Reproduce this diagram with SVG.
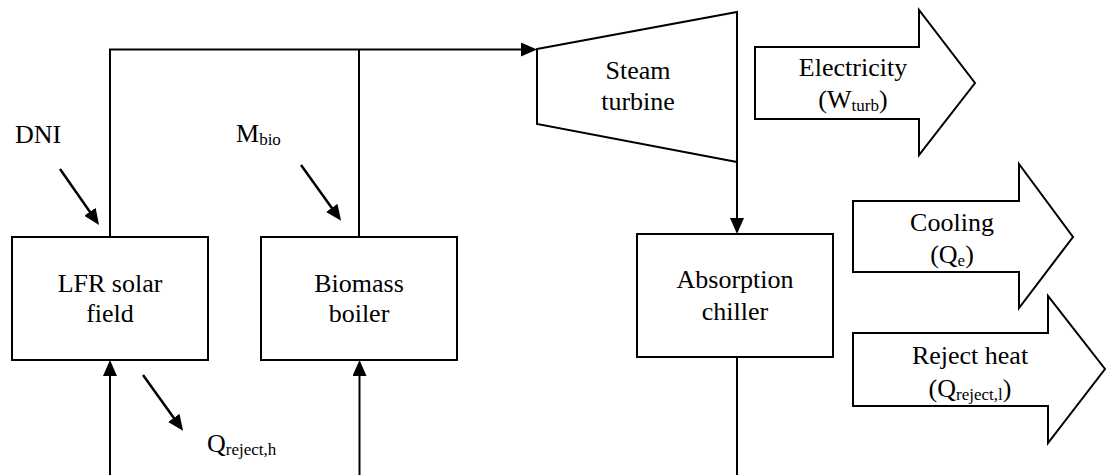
<svg xmlns="http://www.w3.org/2000/svg" width="1108" height="475" viewBox="0 0 1108 475" font-family="Liberation Serif" style="font-family:'Liberation Serif',serif">
<defs>
<marker id="ah" viewBox="0 0 16 14" refX="10" refY="7" markerWidth="16" markerHeight="14" markerUnits="userSpaceOnUse" orient="auto">
<path d="M0,0 L16,7 L0,14 z" fill="#000"/>
</marker>
</defs>
<rect width="1108" height="475" fill="#fff"/>
<g id="connectors" fill="none" stroke="#000" stroke-width="2">
<path d="M110,237 V49.5 H531" marker-end="url(#ah)"/>
<path d="M359,237 V49.5"/>
<path d="M737,162 V228" marker-end="url(#ah)"/>
<path d="M737,357 V475"/>
<path d="M110,475 V366" marker-end="url(#ah)"/>
<path d="M359.5,475 V366" marker-end="url(#ah)"/>
<line stroke-width="2.5" x1="60" y1="169" x2="95.6" y2="220" marker-end="url(#ah)"/>
<line stroke-width="2.5" x1="301" y1="165" x2="337.6" y2="216" marker-end="url(#ah)"/>
<line stroke-width="2.5" x1="143" y1="375" x2="179.6" y2="426" marker-end="url(#ah)"/>
</g>
<g id="lfr">
<rect fill="#fff" stroke="#000" stroke-width="2" x="12" y="237" width="196" height="123"/>
<text x="110" y="292" text-anchor="middle" style="font-family:'Liberation Serif',serif;font-size:26px">LFR solar</text>
<text x="110" y="322" text-anchor="middle" style="font-family:'Liberation Serif',serif;font-size:26px">field</text>
</g>
<g id="biomass">
<rect fill="#fff" stroke="#000" stroke-width="2" x="261" y="237" width="196" height="123"/>
<text x="359" y="292" text-anchor="middle" style="font-family:'Liberation Serif',serif;font-size:26px">Biomass</text>
<text x="359" y="322" text-anchor="middle" style="font-family:'Liberation Serif',serif;font-size:26px">boiler</text>
</g>
<g id="turbine">
<polygon fill="#fff" stroke="#000" stroke-width="2" points="537,49 737,12 737,162 537,124"/>
<text x="638" y="79" text-anchor="middle" style="font-family:'Liberation Serif',serif;font-size:26px">Steam</text>
<text x="638" y="110" text-anchor="middle" style="font-family:'Liberation Serif',serif;font-size:26px">turbine</text>
</g>
<g id="chiller">
<rect fill="#fff" stroke="#000" stroke-width="2" x="637" y="234" width="196" height="123"/>
<text x="735" y="288" text-anchor="middle" style="font-family:'Liberation Serif',serif;font-size:26px">Absorption</text>
<text x="735" y="320" text-anchor="middle" style="font-family:'Liberation Serif',serif;font-size:26px">chiller</text>
</g>
<g id="electricity">
<polygon fill="#fff" stroke="#000" stroke-width="2" points="755,47 919,47 919,10 975,83 919,155 919,119 755,119"/>
<text x="853" y="76" text-anchor="middle" style="font-family:'Liberation Serif',serif;font-size:26px">Electricity</text>
<text x="853" y="108" text-anchor="middle" style="font-family:'Liberation Serif',serif;font-size:26px">(W<tspan style="font-size:17px" dy="3">turb</tspan><tspan dy="-3">)</tspan></text>
</g>
<g id="cooling">
<polygon fill="#fff" stroke="#000" stroke-width="2" points="853,201 1019,201 1019,164 1073,237 1019,308 1019,272 853,272"/>
<text x="952" y="231" text-anchor="middle" style="font-family:'Liberation Serif',serif;font-size:26px">Cooling</text>
<text x="952" y="263" text-anchor="middle" style="font-family:'Liberation Serif',serif;font-size:26px">(Q<tspan style="font-size:17px" dy="3">e</tspan><tspan dy="-3">)</tspan></text>
</g>
<g id="reject">
<polygon fill="#fff" stroke="#000" stroke-width="2" points="853,333 1048,333 1048,296 1105,369 1048,443 1048,406 853,406"/>
<text x="970" y="364" text-anchor="middle" style="font-family:'Liberation Serif',serif;font-size:26px">Reject heat</text>
<text x="970" y="397" text-anchor="middle" style="font-family:'Liberation Serif',serif;font-size:26px">(Q<tspan style="font-size:17px" dy="3">reject,l</tspan><tspan dy="-3">)</tspan></text>
</g>
<g id="dni"><text x="15" y="143" style="font-family:'Liberation Serif',serif;font-size:26px">DNI</text></g>
<g id="mbio"><text x="236" y="142" style="font-family:'Liberation Serif',serif;font-size:26px">M<tspan style="font-size:17px" dy="3">bio</tspan></text></g>
<g id="qrejh"><text x="207" y="452" style="font-family:'Liberation Serif',serif;font-size:26px">Q<tspan style="font-size:17px" dy="3">reject,h</tspan></text></g>
</svg>
